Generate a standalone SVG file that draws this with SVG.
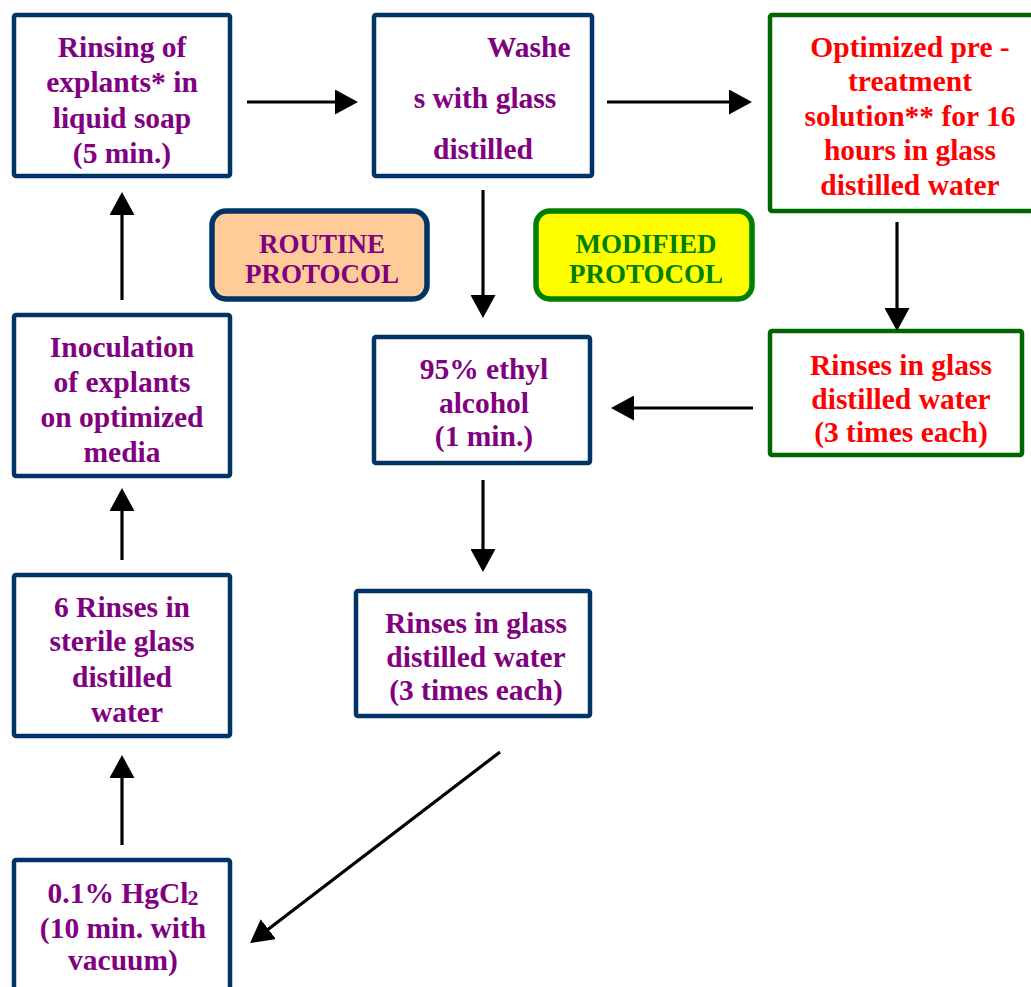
<svg xmlns="http://www.w3.org/2000/svg" width="1031" height="987" viewBox="0 0 1031 987">
<style>
.box{fill:#fff;stroke:#003366;stroke-width:4.5}
.gbox{fill:#fff;stroke:#006600;stroke-width:4.5}
.t{font-family:"Liberation Serif","Times New Roman",serif;font-weight:bold;font-size:29.5px;text-anchor:middle;fill:#800080}
.r{fill:#ff0000}
.lab{font-size:27px}
.arr line{stroke:#000;stroke-width:3.2;fill:none;marker-end:url(#ah)}
</style>
<defs>
<marker id="ah" viewBox="0 0 23 25" refX="8" refY="12.5" markerWidth="23" markerHeight="25" markerUnits="userSpaceOnUse" orient="auto">
<path d="M0,0 L23,12.5 L0,25 z" fill="#000"/>
</marker>
</defs>
<rect width="1031" height="987" fill="#fff"/>

<g id="n-rinsing">
<rect class="box" x="14" y="15" width="216" height="161" rx="2"/>
<text class="t" x="122" y="57">Rinsing of</text>
<text class="t" x="122" y="92">explants* in</text>
<text class="t" x="122" y="128">liquid soap</text>
<text class="t" x="122" y="163">(5 min.)</text>
</g>

<g id="n-washes">
<rect class="box" x="374" y="15" width="218" height="161" rx="2"/>
<text class="t" x="487" y="57" style="text-anchor:start">Washe</text>
<text class="t" x="485" y="108">s with glass</text>
<text class="t" x="483" y="159">distilled</text>
</g>

<g id="n-optimized">
<rect class="gbox" x="770" y="15" width="265" height="196" rx="2"/>
<text class="t r" x="910" y="57">Optimized pre -</text>
<text class="t r" x="910" y="91">treatment</text>
<text class="t r" x="910" y="126">solution** for 16</text>
<text class="t r" x="910" y="160">hours in glass</text>
<text class="t r" x="910" y="195">distilled water</text>
</g>

<g id="n-routine">
<rect x="212" y="211" width="215" height="88" rx="14" fill="#ffcc99" stroke="#003366" stroke-width="5.5"/>
<text class="t lab" x="322" y="253">ROUTINE</text>
<text class="t lab" x="322" y="283">PROTOCOL</text>
</g>

<g id="n-modified">
<rect x="536" y="211" width="216" height="88" rx="14" fill="#ffff00" stroke="#008000" stroke-width="5.5"/>
<text class="t lab" x="646" y="253" style="fill:#008000">MODIFIED</text>
<text class="t lab" x="646" y="283" style="fill:#008000">PROTOCOL</text>
</g>

<g id="n-inoculation">
<rect class="box" x="14" y="315" width="216" height="161" rx="2"/>
<text class="t" x="122" y="357">Inoculation</text>
<text class="t" x="122" y="392">of explants</text>
<text class="t" x="122" y="427">on optimized</text>
<text class="t" x="122" y="462">media</text>
</g>

<g id="n-ethyl">
<rect class="box" x="374" y="337" width="216" height="126" rx="2"/>
<text class="t" x="484" y="379">95% ethyl</text>
<text class="t" x="484" y="413">alcohol</text>
<text class="t" x="484" y="446">(1 min.)</text>
</g>

<g id="n-rinses-green">
<rect class="gbox" x="770" y="331" width="252" height="124" rx="2"/>
<text class="t r" x="901" y="375">Rinses in glass</text>
<text class="t r" x="901" y="409">distilled water</text>
<text class="t r" x="901" y="442">(3 times each)</text>
</g>

<g id="n-six-rinses">
<rect class="box" x="14" y="575" width="216" height="161" rx="2"/>
<text class="t" x="122" y="617">6 Rinses in</text>
<text class="t" x="122" y="651">sterile glass</text>
<text class="t" x="122" y="687">distilled</text>
<text class="t" x="127" y="722">water</text>
</g>

<g id="n-rinses-mid">
<rect class="box" x="356" y="591" width="234" height="125" rx="2"/>
<text class="t" x="476" y="633">Rinses in glass</text>
<text class="t" x="476" y="667">distilled water</text>
<text class="t" x="476" y="700">(3 times each)</text>
</g>

<g id="n-hgcl2">
<rect class="box" x="14" y="860" width="216" height="150" rx="2"/>
<text class="t" x="123" y="903">0.1% HgCl<tspan dx="-1" dy="2" style="font-size:22px">2</tspan></text>
<text class="t" x="123" y="938">(10 min. with</text>
<text class="t" x="123" y="970">vacuum)</text>
</g>

<g id="connectors" class="arr">
<line x1="247" y1="102" x2="343" y2="102"/>
<line x1="607" y1="102" x2="737" y2="102"/>
<line x1="483" y1="190" x2="483" y2="303"/>
<line x1="897" y1="222" x2="897" y2="316"/>
<line x1="753" y1="408" x2="626" y2="408"/>
<line x1="483" y1="480" x2="483" y2="557"/>
<line x1="500" y1="752" x2="262" y2="934"/>
<line x1="122" y1="845" x2="122" y2="770"/>
<line x1="122" y1="560" x2="122" y2="503"/>
<line x1="122" y1="300" x2="122" y2="207"/>
</g>
</svg>
